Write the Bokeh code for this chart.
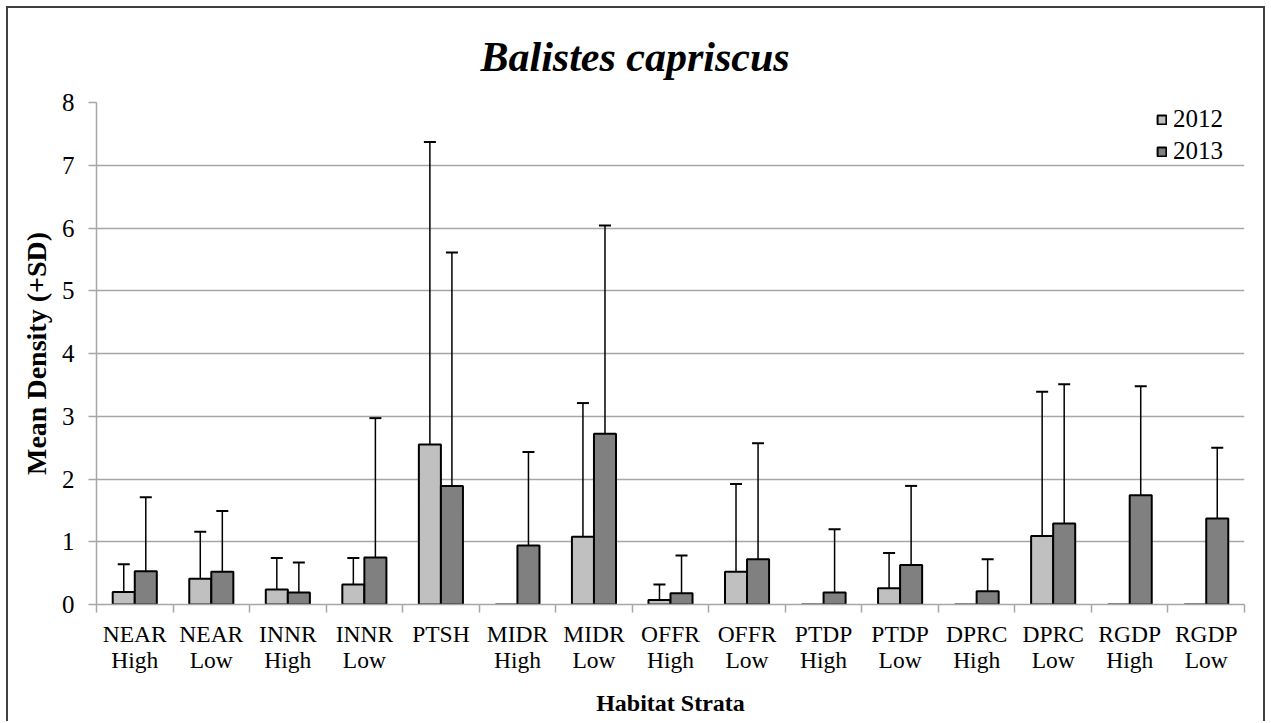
from bokeh.plotting import figure
from bokeh.models import (Range1d, FixedTicker, ColumnDataSource, Whisker, TeeHead,
                          Legend, LegendItem)
from bokeh.embed import file_html
from bokeh.resources import INLINE

# ---- data ----
categories = ["NEAR\nHigh", "NEAR\nLow", "INNR\nHigh", "INNR\nLow", "PTSH",
              "MIDR\nHigh", "MIDR\nLow", "OFFR\nHigh", "OFFR\nLow", "PTDP\nHigh",
              "PTDP\nLow", "DPRC\nHigh", "DPRC\nLow", "RGDP\nHigh", "RGDP\nLow"]
years = ["2012", "2013"]
mean_2012 = [0.20, 0.41, 0.24, 0.32, 2.55, 0.00, 1.08, 0.07, 0.52, 0.00, 0.26, 0.00, 1.09, 0.00, 0.00]
sd_2012 = [0.44, 0.75, 0.50, 0.42, 4.82, 0.00, 2.13, 0.25, 1.40, 0.00, 0.56, 0.00, 2.30, 0.00, 0.00]
mean_2013 = [0.53, 0.52, 0.19, 0.75, 1.89, 0.94, 2.72, 0.18, 0.72, 0.19, 0.63, 0.21, 1.29, 1.74, 1.37]
sd_2013 = [1.18, 0.97, 0.48, 2.22, 3.72, 1.49, 3.32, 0.60, 1.85, 1.01, 1.26, 0.51, 2.22, 1.74, 1.13]
y_ticks = [0, 1, 2, 3, 4, 5, 6, 7, 8]

FONT = "Liberation Serif"
n = len(categories)
bar_w = 0.288

p = figure(frame_width=1148, frame_height=502,
           min_border_left=88, min_border_right=19, min_border_top=94, min_border_bottom=117,
           x_range=Range1d(0, n), y_range=Range1d(0, 8),
           output_backend="svg", toolbar_location=None)
p.styles = {"margin-left": "6px", "margin-top": "6px",
            "border-left": "2px solid #404040", "border-top": "2px solid #404040",
            "border-right": "2px solid #404040"}
p.outline_line_color = None
p.background_fill_color = "white"

# title
p.title.text = "Balistes capriscus"
p.title.text_font = FONT
p.title.text_font_style = "bold italic"
p.title.text_font_size = "42px"
p.title.text_color = "black"
p.title.align = "left"
p.title.offset = 384
p.title.standoff = 46

colors = {"2012": "#c0c0c0", "2013": "#808080"}
series = {"2012": (mean_2012, sd_2012, -bar_w / 2), "2013": (mean_2013, sd_2013, bar_w / 2)}

items = []
for yr in years:
    means, sds, off = series[yr]
    xs = [i + 0.5 + off for i in range(n)]
    src = ColumnDataSource(dict(x=xs, top=means))
    r = p.vbar(x="x", top="top", width=bar_w, bottom=0, source=src,
               fill_color=colors[yr], line_color="black", line_width=2)
    items.append(LegendItem(label=yr, renderers=[r]))
    ex = [x for x, s in zip(xs, sds) if s > 0]
    lo = [m for m, s in zip(means, sds) if s > 0]
    up = [m + s for m, s in zip(means, sds) if s > 0]
    esrc = ColumnDataSource(dict(base=ex, lower=lo, upper=up))
    w = Whisker(base="base", lower="lower", upper="upper", source=esrc, dimension="height",
                line_color="black", line_width=1.5,
                upper_head=TeeHead(size=12, line_color="black", line_width=2),
                lower_head=None)
    p.add_layout(w)

# grid
p.xgrid.visible = False
p.ygrid.ticker = FixedTicker(ticks=y_ticks)
p.ygrid.grid_line_color = "#a6a6a6"
p.ygrid.grid_line_width = 1.5

# y axis
ya = p.yaxis[0]
ya.ticker = FixedTicker(ticks=y_ticks)
ya.axis_line_color = "#a6a6a6"
ya.axis_line_width = 1.5
ya.major_tick_line_color = "#a6a6a6"
ya.major_tick_line_width = 1.5
ya.major_tick_out = 8
ya.major_tick_in = 0
ya.minor_tick_line_color = None
ya.major_label_text_font = FONT
ya.major_label_text_font_size = "25px"
ya.major_label_text_color = "black"
ya.major_label_standoff = 14
ya.axis_label = "Mean Density (+SD)"
ya.axis_label_text_font = FONT
ya.axis_label_text_font_style = "bold"
ya.axis_label_text_font_size = "28px"
ya.axis_label_text_color = "black"
ya.axis_label_standoff = 7

# x axis
xa = p.xaxis[0]
centers = [i + 0.5 for i in range(n)]
xa.ticker = FixedTicker(ticks=centers, minor_ticks=list(range(n + 1)))
xa.major_label_overrides = {c: lab for c, lab in zip(centers, categories)}
xa.axis_line_color = "#a6a6a6"
xa.axis_line_width = 1.5
xa.major_tick_line_color = None
xa.major_tick_out = 0
xa.major_tick_in = 0
xa.minor_tick_line_color = "#a6a6a6"
xa.minor_tick_line_width = 1.5
xa.minor_tick_out = 8
xa.minor_tick_in = 0
xa.major_label_text_font = FONT
xa.major_label_text_font_size = "23.5px"
xa.major_label_text_color = "black"
xa.major_label_text_line_height = 1.0
xa.major_label_standoff = 8
xa.axis_label = "Habitat Strata"
xa.axis_label_text_font = FONT
xa.axis_label_text_font_style = "bold"
xa.axis_label_text_font_size = "24px"
xa.axis_label_text_color = "black"
xa.axis_label_standoff = 14

legend = Legend(items=items, location=(1060, 439), orientation="vertical",
                border_line_color=None, background_fill_alpha=0,
                glyph_width=11, glyph_height=11, label_standoff=6,
                label_text_font=FONT, label_text_font_size="25px",
                label_text_color="black", spacing=4, padding=5, margin=0)
p.add_layout(legend)

open("out.html", "w").write(file_html(p, INLINE))
